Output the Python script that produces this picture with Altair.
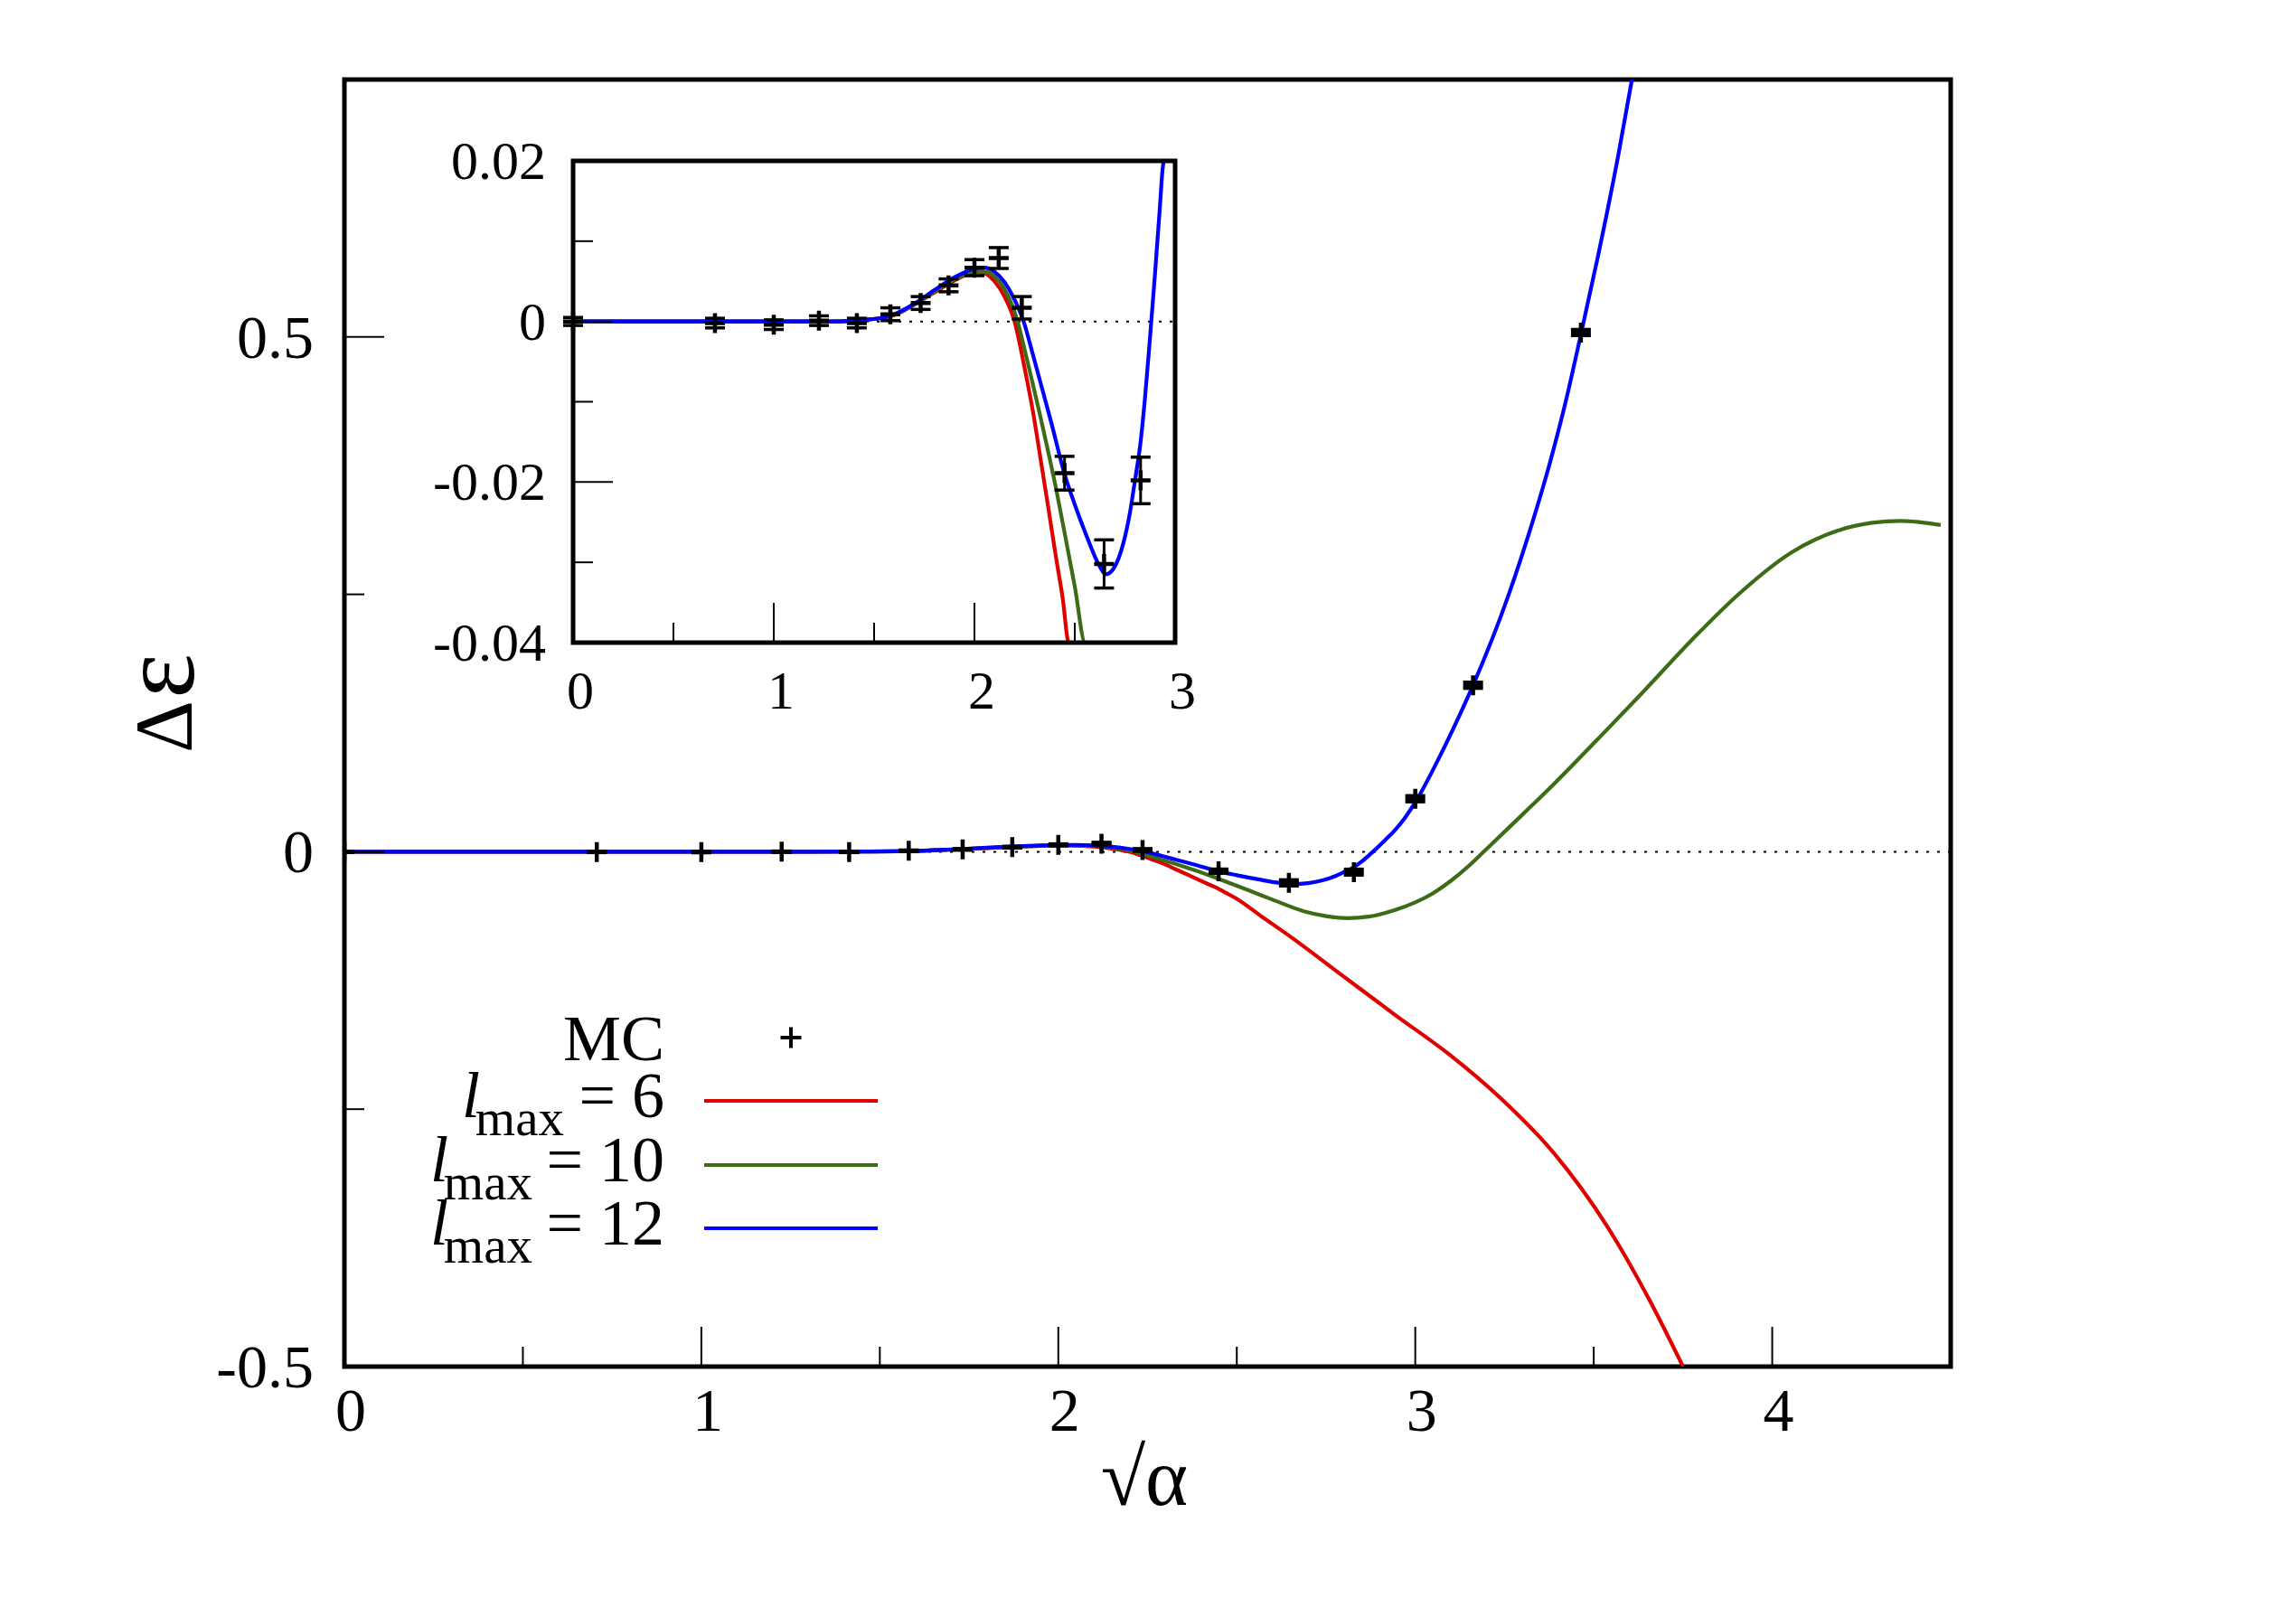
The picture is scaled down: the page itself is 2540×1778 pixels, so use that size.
import altair as alt
import pandas as pd

# ---------------- data ----------------
lmax_values = [6, 10, 12]

x_lmax6 = [0.0, 0.5, 1.0, 1.3, 1.45, 1.55, 1.6, 1.7, 1.8, 1.9, 1.95, 2.0, 2.05, 2.1, 2.15, 2.2,
           2.25, 2.29, 2.33, 2.37, 2.404, 2.44, 2.47, 2.498, 2.57, 2.646, 2.795, 2.944, 3.092, 3.241,
           3.389, 3.538, 3.657, 3.75]
y_lmax6 = [0.0, 0.0, 0.0, 0.0, 0.0002, 0.0005, 0.0008, 0.0021, 0.0036, 0.0051, 0.0057, 0.0061, 0.0060,
           0.0050, 0.0031, 0.0000, -0.0058, -0.0110, -0.0172, -0.0235, -0.0290, -0.0345, -0.0400,
           -0.0453, -0.0630, -0.0814, -0.1200, -0.1586, -0.1960, -0.2400, -0.2930, -0.3640, -0.4360,
           -0.5000]

x_lmax10 = [0.0, 0.5, 1.0, 1.3, 1.45, 1.55, 1.6, 1.7, 1.8, 1.9, 1.95, 2.0, 2.05, 2.1, 2.15, 2.215,
            2.25, 2.29, 2.33, 2.37, 2.40, 2.443, 2.5, 2.552, 2.6, 2.69, 2.75, 2.81, 2.87, 2.94, 3.0,
            3.05, 3.10, 3.15, 3.19, 3.30, 3.389, 3.538, 3.624, 3.794, 3.907, 4.053, 4.189, 4.28,
            4.359, 4.472]
y_lmax10 = [0.0, 0.0, 0.0, 0.0, 0.0002, 0.0005, 0.0008, 0.0021, 0.0037, 0.0052, 0.0058, 0.0062, 0.0062,
            0.0056, 0.0040, 0.0000, -0.0035, -0.0077, -0.0120, -0.0165, -0.0200, -0.0255, -0.0330,
            -0.0400, -0.0465, -0.0580, -0.0625, -0.0645, -0.0630, -0.0570, -0.0492, -0.0402, -0.0282,
            -0.0137, -0.0005, 0.0360, 0.0660, 0.1190, 0.1500, 0.2125, 0.2505, 0.2905, 0.3125, 0.3195,
            0.3213, 0.3174]

x_lmax12 = [0.0, 0.5, 1.0, 1.3, 1.45, 1.55, 1.6, 1.7, 1.8, 1.9, 1.95, 2.0, 2.05, 2.1, 2.15, 2.19,
            2.245, 2.29, 2.33, 2.385, 2.449, 2.5, 2.56, 2.62, 2.655, 2.70, 2.74, 2.775, 2.80, 2.828,
            2.85, 2.875, 2.90, 2.92, 2.945, 2.97, 3.0, 3.062, 3.122, 3.161, 3.262, 3.330, 3.375,
            3.420, 3.4625, 3.511, 3.568, 3.607]
y_lmax12 = [0.0, 0.0, 0.0, 0.0, 0.0002, 0.0005, 0.0009, 0.0022, 0.0039, 0.0055, 0.0061, 0.0066, 0.0067,
            0.0062, 0.0049, 0.0032, 0.0000, -0.0040, -0.0077, -0.0128, -0.0190, -0.0228, -0.0268,
            -0.0303, -0.0315, -0.0305, -0.0278, -0.0238, -0.0198, -0.0150, -0.0095, -0.0020, 0.0060,
            0.0128, 0.0218, 0.0325, 0.0480, 0.0880, 0.1310, 0.1610, 0.2500, 0.3220, 0.3750, 0.4350,
            0.5000, 0.5770, 0.6750, 0.7500]

mc_x = [0.0, 0.707, 1.0, 1.225, 1.414, 1.581, 1.732, 1.871, 2.0, 2.121, 2.236, 2.449, 2.646, 2.828,
        3.0, 3.162, 3.464]
mc_y = [0.0, -0.0002, -0.0004, 0.0001, -0.0002, 0.0009, 0.0023, 0.0045, 0.0067, 0.0079, 0.0017,
        -0.0189, -0.0302, -0.0198, 0.0515, 0.1617, 0.5043]
mc_err = [0.0005, 0.0006, 0.0006, 0.0006, 0.0006, 0.0008, 0.0008, 0.0008, 0.0010, 0.0013, 0.0014,
          0.0021, 0.0030, 0.0029, 0.0030, 0.0030, 0.0030]

main_x_domain = [0, 4.5]
main_y_domain = [-0.5, 0.75]
main_x_major = [0, 1, 2, 3, 4]
main_x_labels = ["0", "1", "2", "3", "4"]
main_x_minor = [0.5, 1.5, 2.5, 3.5]
main_y_major = [-0.5, 0, 0.5]
main_y_labels = ["-0.5", "0", "0.5"]
main_y_minor = [-0.25, 0.25]

inset_x_domain = [0, 3]
inset_y_domain = [-0.04, 0.02]
inset_x_major = [0, 1, 2, 3]
inset_x_labels = ["0", "1", "2", "3"]
inset_x_minor = [0.5, 1.5, 2.5]
inset_y_major = [-0.04, -0.02, 0, 0.02]
inset_y_labels = ["-0.04", "-0.02", "0", "0.02"]
inset_y_minor = [-0.03, -0.01, 0.01]

x_title = "√α"
y_title_delta = "Δ"
y_title_eps = "ε"
mc_label = "MC"

# ---------------- layout / style ----------------
W, H = 1777, 1424
PADDING = {"left": 381, "top": 88, "right": 382, "bottom": 266}
INSET_X_RANGE = [253, 919]
INSET_Y_RANGE = [623, 90]
FONT = "Liberation Serif"
COLORS = {6: "#e00000", 10: "#3d6b16", 12: "#0000ff"}
PLUS = "M-1,0L1,0M0,-1L0,1"
CAP = "M-1,0L1,0"
MAJOR, MINOR = 44, 22
LW = 4.2

sx = alt.Scale(domain=main_x_domain, range=[0, W], nice=False, zero=False)
sy = alt.Scale(domain=main_y_domain, range=[H, 0], nice=False, zero=False)
ix = alt.Scale(domain=inset_x_domain, range=INSET_X_RANGE, nice=False, zero=False, clamp=True)
iy = alt.Scale(domain=inset_y_domain, range=INSET_Y_RANGE, nice=False, zero=False, clamp=True)

curves = {6: (x_lmax6, y_lmax6), 10: (x_lmax10, y_lmax10), 12: (x_lmax12, y_lmax12)}
mc_df = pd.DataFrame({
    "x": mc_x, "y": mc_y,
    "lo": [v - e for v, e in zip(mc_y, mc_err)],
    "hi": [v + e for v, e in zip(mc_y, mc_err)],
})
one = pd.DataFrame({"a": [0]})


def X(field, sc):
    return alt.X(field, type="quantitative", scale=sc, axis=None)


def Y(field, sc):
    return alt.Y(field, type="quantitative", scale=sc, axis=None)


def curve_layers(sc_x, sc_y, clip, filt=None):
    out = []
    for l in lmax_values:
        xs, ys = curves[l]
        df = pd.DataFrame({"x": xs, "y": ys})
        base = alt.Chart(df)
        if filt is not None:
            base = base.transform_filter(filt)
        out.append(base.mark_line(color=COLORS[l], strokeWidth=LW, interpolate="monotone",
                                  clip=clip).encode(x=X("x", sc_x), y=Y("y", sc_y)))
    return out


def mc_layers(sc_x, sc_y, clip, filt=None):
    base = alt.Chart(mc_df)
    if filt is not None:
        base = base.transform_filter(filt)
    bars = base.mark_rule(color="black", strokeWidth=3, clip=clip).encode(
        x=X("x", sc_x), y=Y("lo", sc_y), y2="hi:Q")
    lo = base.mark_point(shape=CAP, size=484, filled=False, color="black", strokeWidth=3.5,
                         opacity=1, clip=clip).encode(x=X("x", sc_x), y=Y("lo", sc_y))
    hi = base.mark_point(shape=CAP, size=484, filled=False, color="black", strokeWidth=3.5,
                         opacity=1, clip=clip).encode(x=X("x", sc_x), y=Y("hi", sc_y))
    plus = base.mark_point(shape=PLUS, size=484, filled=False, color="black", strokeWidth=4.5,
                           opacity=1, clip=clip).encode(x=X("x", sc_x), y=Y("y", sc_y))
    return [bars, lo, hi, plus]


def ticks_x(vals, sc, y_base, length):
    return alt.Chart(pd.DataFrame({"v": vals})).mark_rule(color="black", strokeWidth=2).encode(
        x=X("v", sc), y=alt.value(y_base), y2=alt.value(y_base - length))


def ticks_y(vals, sc, x_base, length):
    return alt.Chart(pd.DataFrame({"v": vals})).mark_rule(color="black", strokeWidth=2).encode(
        y=Y("v", sc), x=alt.value(x_base), x2=alt.value(x_base + length))


def labels_x(vals, texts, sc, y_px, size, dx):
    df = pd.DataFrame({"v": vals, "t": texts})
    return alt.Chart(df).mark_text(font=FONT, fontSize=size, align="center", baseline="alphabetic",
                                   dx=dx, color="black").encode(x=X("v", sc), y=alt.value(y_px), text="t:N")


def labels_y(vals, texts, sc, x_px, size, dy):
    df = pd.DataFrame({"v": vals, "t": texts})
    return alt.Chart(df).mark_text(font=FONT, fontSize=size, align="right", baseline="alphabetic",
                                   dy=dy, color="black").encode(y=Y("v", sc), x=alt.value(x_px), text="t:N")


def txt(s, x, y, size, align="center", style=None, angle=None):
    kw = dict(font=FONT, fontSize=size, align=align, baseline="alphabetic", color="black")
    if style is not None:
        kw["fontStyle"] = style
    if angle is not None:
        kw["angle"] = angle
    return alt.Chart(one).mark_text(**kw).encode(x=alt.value(x), y=alt.value(y), text=alt.value(s))


# ---------------- main plot ----------------
main = []
main.append(alt.Chart(pd.DataFrame({"v": [0]})).mark_rule(color="black", strokeWidth=2,
                                                            strokeDash=[3, 9]).encode(y=Y("v", sy)))
main += curve_layers(sx, sy, True)
main += mc_layers(sx, sy, True)
main.append(ticks_x(main_x_major, sx, H, MAJOR))
main.append(ticks_x(main_x_minor, sx, H, MINOR))
main.append(ticks_y(main_y_major, sy, 0, MAJOR))
main.append(ticks_y(main_y_minor, sy, 0, MINOR))
main.append(labels_x(main_x_major, main_x_labels, sx, 1495, 68, 7))
main.append(labels_y(main_y_major, main_y_labels, sy, -34, 68, 23))
main.append(txt(x_title, 885, 1577, 90))
main.append(txt(y_title_delta, -169, 716, 90, angle=270))
main.append(txt(y_title_eps, -167, 660, 118, angle=270))

# legend
main.append(txt(mc_label, 354, 1085, 72, align="right"))
main.append(alt.Chart(one).mark_point(shape=PLUS, size=529, filled=False, color="black", strokeWidth=4,
                                      opacity=1).encode(x=alt.value(494), y=alt.value(1060)))
row_base = [1148, 1219, 1289]
l_left = [130, 95, 95]
max_right = [243, 208, 208]
for i, l in enumerate(lmax_values):
    b = row_base[i]
    main.append(txt("l", l_left[i], b, 72, align="left", style="italic"))
    main.append(txt("max", max_right[i], b + 20, 57, align="right"))
    main.append(txt(f"= {l}", 354, b, 72, align="right"))
    main.append(alt.Chart(one).mark_rule(color=COLORS[l], strokeWidth=4).encode(
        x=alt.value(398), x2=alt.value(590), y=alt.value(b - 18)))

# ---------------- inset ----------------
box = pd.DataFrame({"x0": [inset_x_domain[0]], "x1": [inset_x_domain[1]],
                    "y0": [inset_y_domain[0]], "y1": [inset_y_domain[1]], "v": [0]})
inset = []
inset.append(alt.Chart(box).mark_rect(color="white").encode(
    x=X("x0", ix), x2="x1:Q", y=Y("y0", iy), y2="y1:Q"))
inset.append(alt.Chart(box).mark_rule(color="black", strokeWidth=2, strokeDash=[3, 9]).encode(
    x=X("x0", ix), x2="x1:Q", y=Y("v", iy)))
inset += curve_layers(ix, iy, False, filt=alt.datum.x <= inset_x_domain[1])
inset += mc_layers(ix, iy, False, filt=alt.datum.x <= 2.9)
inset.append(ticks_x(inset_x_major, ix, INSET_Y_RANGE[0], MAJOR))
inset.append(ticks_x(inset_x_minor, ix, INSET_Y_RANGE[0], MINOR))
inset.append(ticks_y(inset_y_major, iy, INSET_X_RANGE[0], MAJOR))
inset.append(ticks_y(inset_y_minor, iy, INSET_X_RANGE[0], MINOR))
inset.append(alt.Chart(box).mark_rect(filled=False, color="black", strokeWidth=5).encode(
    x=X("x0", ix), x2="x1:Q", y=Y("y0", iy), y2="y1:Q"))
inset.append(labels_x(inset_x_major, inset_x_labels, ix, 696, 60, 8))
inset.append(labels_y(inset_y_major, inset_y_labels, iy, INSET_X_RANGE[0] - 30, 60, 20))

chart = alt.layer(alt.layer(*main), alt.layer(*inset)).resolve_scale(
    x="independent", y="independent"
).properties(
    width=W, height=H,
    autosize=alt.AutoSizeParams(type="none"),
    padding=PADDING,
    background="white",
).configure_view(stroke="black", strokeWidth=5)

chart.save("out.html", embed_options={"renderer": "svg", "actions": False})
